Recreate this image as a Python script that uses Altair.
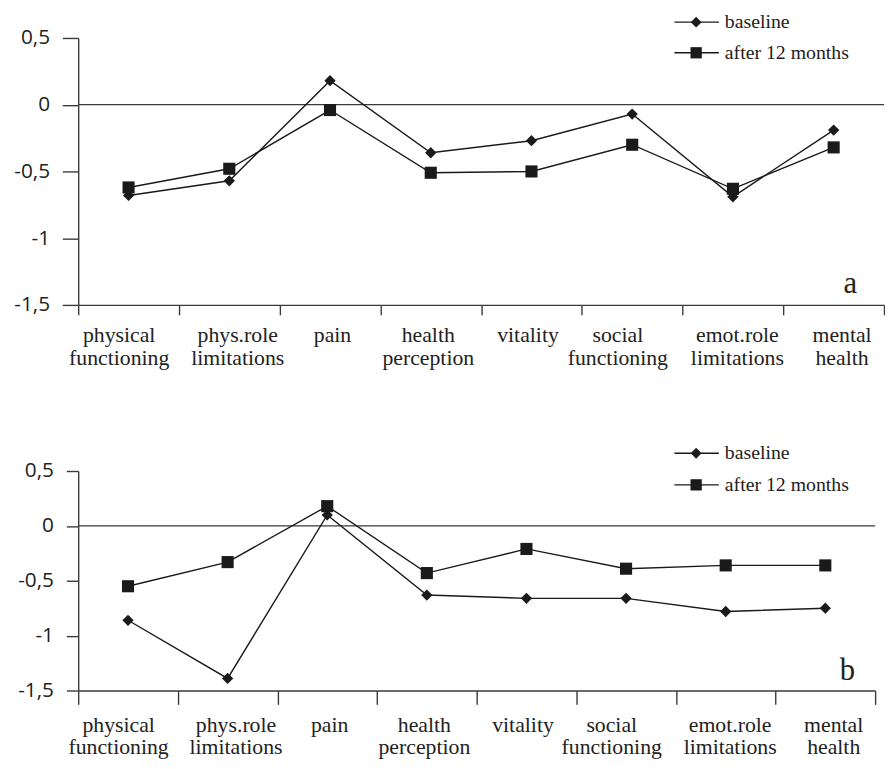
import altair as alt
import pandas as pd

categories = ["physical functioning", "phys.role limitations", "pain", "health perception",
              "vitality", "social functioning", "emot.role limitations", "mental health"]
series_names = ["baseline", "after 12 months"]
legend_labels = ["baseline", " after 12 months"]

a_baseline = [-0.68, -0.57, 0.18, -0.36, -0.27, -0.07, -0.69, -0.19]
a_after = [-0.62, -0.48, -0.04, -0.51, -0.50, -0.30, -0.63, -0.32]
b_baseline = [-0.86, -1.39, 0.10, -0.63, -0.66, -0.66, -0.78, -0.75]
b_after = [-0.55, -0.33, 0.18, -0.43, -0.21, -0.39, -0.36, -0.36]

panel_letters = ["a", "b"]
y_ticks = [-1.5, -1, -0.5, 0, 0.5]
zero_line = [0]

INK = "#1a1a1a"
AXIS = "#3a3a3a"
SERIF = "Liberation Serif"
SANS = "Open Sans"

# small horizontal nudges of the category labels (style only)
label_nudge = [-10, 8, 2, -3, -4, -15, 4, 8]


def panel(baseline, after, letter, width, height, ytick, xtick, leg_range, letter_x, letter_y):
    rows = []
    for name, vals in zip(series_names, [baseline, after]):
        for c, v in zip(categories, vals):
            rows.append({"category": c, "series": name, "value": v})
    df = pd.DataFrame(rows)

    yscale = alt.Scale(domain=[-1.5, 0.5], nice=False, zero=False)
    shape_scale = alt.Scale(domain=series_names, range=["diamond", "square"])
    offset_cond = {
        "condition": [{"test": f"datum.value == '{c}'", "value": n}
                      for c, n in zip(categories, label_nudge) if n != 0],
        "value": 0,
    }
    x = alt.X("category:N", sort=categories,
              scale=alt.Scale(domain=categories, paddingInner=0, paddingOuter=0),
              axis=alt.Axis(title=None, labelExpr="split(datum.label, ' ')", labelAngle=0,
                            tickBand="extent", tickSize=xtick, labelPadding=10,
                            labelOffset=offset_cond,
                            labelFont=SERIF, labelFontSize=22, labelLineHeight=23,
                            labelColor="#222", labelLimit=0, labelOverlap=False,
                            domainColor=AXIS, tickColor=AXIS, domainWidth=1.4, tickWidth=1.4))
    y = alt.Y("value:Q", scale=yscale,
              axis=alt.Axis(title=None, values=y_ticks, grid=False,
                            labelExpr="replace(toString(datum.value), '.', ',')",
                            tickSize=ytick, labelPadding=13, labelFont=SANS, labelFontSize=21,
                            labelColor="#222", domainColor=AXIS, tickColor=AXIS,
                            domainWidth=1.4, tickWidth=1.4))

    zero = alt.Chart(pd.DataFrame({"value": zero_line})).mark_rule(
        color=AXIS, strokeWidth=1.2).encode(y=alt.Y("value:Q", scale=yscale))
    base = alt.Chart(df)
    lines = base.mark_line(color=INK, strokeWidth=1.4).encode(x=x, y=y, detail="series:N")
    pts = base.mark_point(filled=True, color=INK, opacity=1).encode(
        x=x, y=y,
        shape=alt.Shape("series:N", scale=shape_scale, legend=None),
        size=alt.condition("datum.series == 'baseline'", alt.value(130), alt.value(150)))
    main = alt.layer(zero, lines, pts)

    leg_df = pd.DataFrame({"series": series_names, "label": legend_labels})
    ly = alt.Y("series:N", scale=alt.Scale(type="point", domain=series_names, range=leg_range, padding=0),
               axis=None)
    leg = alt.Chart(leg_df)
    leg_rule = leg.mark_rule(color=INK, strokeWidth=1.4).encode(
        x=alt.value(603), x2=alt.value(648), y=ly)
    leg_pts = leg.mark_point(filled=True, color=INK, opacity=1).encode(
        x=alt.value(625), y=ly,
        shape=alt.Shape("series:N", scale=shape_scale, legend=None),
        size=alt.condition("datum.series == 'baseline'", alt.value(120), alt.value(130)))
    leg_text = leg.mark_text(align="left", baseline="middle", font=SERIF, fontSize=20,
                             color="#222").encode(x=alt.value(654), y=ly, text="label:N")
    legend = alt.layer(leg_rule, leg_pts, leg_text)

    let_df = pd.DataFrame({"letter": [letter]})
    let_text = alt.Chart(let_df).mark_text(align="center", baseline="alphabetic", font=SERIF,
                                           fontSize=31, color="#222").encode(
        x=alt.value(letter_x), y=alt.value(letter_y), text="letter:N")

    return alt.layer(main, legend, let_text).resolve_scale(y="independent").properties(
        width=width, height=height)


pa = panel(a_baseline, a_after, panel_letters[0], 815, 270, 16, 10, [-16, 15], 781, 258)
pb = panel(b_baseline, b_after, panel_letters[1], 806, 222, 12, 14, [-18, 14], 778, 211)

chart = alt.vconcat(pa, pb, spacing=76).configure_view(stroke=None).properties(
    padding={"top": 0, "left": 5, "right": 0, "bottom": 0})

chart.save("out.html", embed_options={"renderer": "svg", "actions": False})
